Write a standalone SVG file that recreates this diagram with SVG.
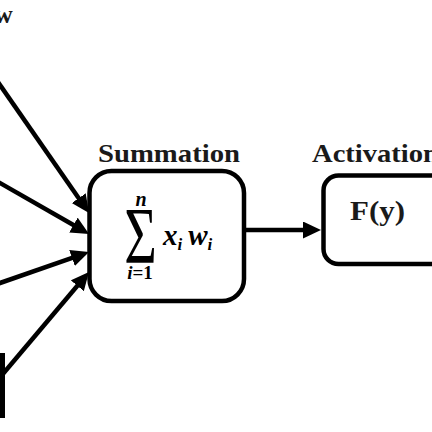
<svg xmlns="http://www.w3.org/2000/svg" width="432" height="432" viewBox="0 0 432 432">
<style>
.box{fill:#fff;stroke:#000;stroke-width:4.5}
.edge{stroke:#000;stroke-width:4.5;fill:none;marker-end:url(#ah)}
.lbl{font-family:"Liberation Serif","DejaVu Serif",serif;font-weight:bold;fill:#1a1a1a}
.math{font-family:"Liberation Serif","DejaVu Serif",serif;font-weight:bold;font-style:italic;fill:#000}
</style>
<defs>
<marker id="ah" markerUnits="userSpaceOnUse" markerWidth="20" markerHeight="18" refX="4" refY="8.5" orient="auto">
<path d="M0,0 L18,8.5 L0,17 z" fill="#000"/>
</marker>
</defs>
<rect width="432" height="432" fill="#fff"/>
<text class="lbl" x="-6" y="23" font-size="26">w</text>
<g id="connectors">
<line class="edge" x1="-4" y1="79.2" x2="81" y2="201.5"/>
<line class="edge" x1="-4" y1="180.7" x2="76.9" y2="227"/>
<line class="edge" x1="-4" y1="284.4" x2="75.8" y2="256.6"/>
<line class="edge" x1="2" y1="375" x2="79.9" y2="282.7"/>
<line class="edge" x1="246" y1="230" x2="307" y2="230"/>
</g>
<g id="bias">
<rect x="0" y="353" width="5" height="65" fill="#000"/>
</g>
<g id="summation">
<text class="lbl" x="98" y="162" font-size="26" textLength="142" lengthAdjust="spacingAndGlyphs">Summation</text>
<rect class="box" x="89.5" y="171" width="154.5" height="130" rx="22"/>
<text x="0" y="0" font-family="Liberation Serif,serif" font-size="80" text-anchor="middle" transform="translate(140.5 263) scale(0.7 1)">Σ</text>
<text class="math" x="141" y="206" font-size="20" text-anchor="middle">n</text>
<text class="math" x="140" y="279" font-size="19" text-anchor="middle">i<tspan font-style="normal">=1</tspan></text>
<text class="math" x="163" y="245" font-size="29">x<tspan font-size="17" dy="5">i</tspan><tspan dx="6" dy="-5">w</tspan><tspan font-size="17" dy="5">i</tspan></text>
</g>
<g id="activation">
<text class="lbl" x="312" y="162" font-size="26" textLength="127" lengthAdjust="spacingAndGlyphs">Activation</text>
<rect class="box" x="323.5" y="175.5" width="140" height="88.5" rx="15" stroke-width="5"/>
<text class="lbl" x="377.5" y="220" font-size="27" text-anchor="middle" textLength="55" lengthAdjust="spacingAndGlyphs">F(y)</text>
</g>
</svg>
